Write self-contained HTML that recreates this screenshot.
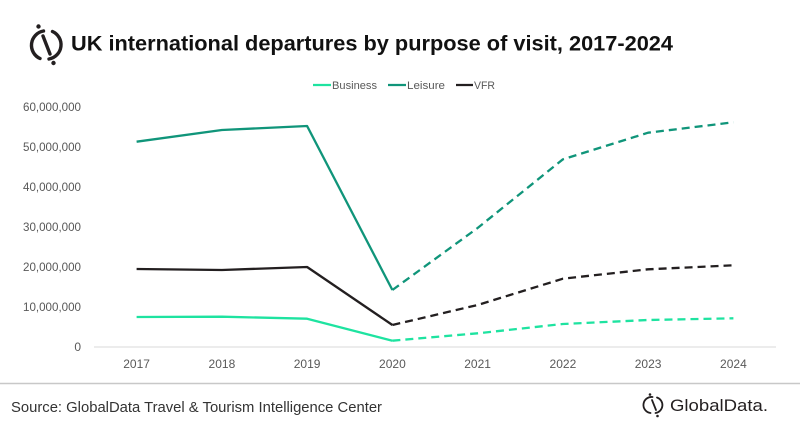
<!DOCTYPE html>
<html>
<head>
<meta charset="utf-8">
<style>
  html,body{margin:0;padding:0;background:#fff;}
  svg{display:block;}
  text{font-family:"Liberation Sans",Arial,sans-serif;}
</style>
</head>
<body>
<svg width="800" height="429" viewBox="0 0 800 429" xmlns="http://www.w3.org/2000/svg">
  <rect width="800" height="429" fill="#fff"/>

  <!-- Header logo icon -->
  <g fill="none" stroke="#231f20" stroke-width="3.4" stroke-linecap="round">
    <path d="M 52.5 31.5 A 14.5 14.5 0 0 1 49 59"/>
    <path d="M 40 58.5 A 14.5 14.5 0 0 1 43.5 31"/>
    <line x1="43" y1="36" x2="50" y2="54"/>
  </g>
  <circle cx="38.5" cy="26.5" r="2.2" fill="#231f20"/>
  <circle cx="53.5" cy="63" r="2.2" fill="#231f20"/>

  <!-- Title -->
  <text x="71" y="50.5" font-size="21.7" font-weight="bold" fill="#111" textLength="602" lengthAdjust="spacingAndGlyphs">UK international departures by purpose of visit, 2017-2024</text>

  <!-- Legend -->
  <g font-size="11" fill="#595959">
    <line x1="313" y1="85" x2="331" y2="85" stroke="#1ee3a0" stroke-width="2.2"/>
    <text x="332" y="89" textLength="45" lengthAdjust="spacingAndGlyphs">Business</text>
    <line x1="388" y1="85" x2="406" y2="85" stroke="#10957a" stroke-width="2.2"/>
    <text x="407" y="89" textLength="38" lengthAdjust="spacingAndGlyphs">Leisure</text>
    <line x1="456" y1="85" x2="473" y2="85" stroke="#231f20" stroke-width="2.2"/>
    <text x="474" y="89" textLength="21" lengthAdjust="spacingAndGlyphs">VFR</text>
  </g>

  <!-- Y axis labels -->
  <g font-size="12" fill="#595959" text-anchor="end">
    <text x="81" y="111" textLength="58" lengthAdjust="spacingAndGlyphs">60,000,000</text>
    <text x="81" y="151" textLength="58" lengthAdjust="spacingAndGlyphs">50,000,000</text>
    <text x="81" y="191" textLength="58" lengthAdjust="spacingAndGlyphs">40,000,000</text>
    <text x="81" y="231" textLength="58" lengthAdjust="spacingAndGlyphs">30,000,000</text>
    <text x="81" y="271" textLength="58" lengthAdjust="spacingAndGlyphs">20,000,000</text>
    <text x="81" y="311" textLength="58" lengthAdjust="spacingAndGlyphs">10,000,000</text>
    <text x="81" y="351">0</text>
  </g>

  <!-- Baseline -->
  <line x1="94" y1="347" x2="776" y2="347" stroke="#d9d9d9" stroke-width="1"/>

  <!-- X axis labels -->
  <g font-size="12" fill="#595959" text-anchor="middle">
    <text x="136.6" y="368">2017</text>
    <text x="221.9" y="368">2018</text>
    <text x="307.1" y="368">2019</text>
    <text x="392.4" y="368">2020</text>
    <text x="477.6" y="368">2021</text>
    <text x="562.9" y="368">2022</text>
    <text x="648.1" y="368">2023</text>
    <text x="733.4" y="368">2024</text>
  </g>

  <!-- Series -->
  <g fill="none" stroke-width="2.3" stroke-linejoin="round">
    <!-- Leisure -->
    <polyline stroke="#10957a" points="136.6,141.7 221.9,130 307.1,126 392.4,290"/>
    <polyline stroke="#10957a" stroke-dasharray="8,5" points="392.4,290 477.6,228 562.9,159.3 648.1,132.7 733.4,122.3"/>
    <!-- VFR -->
    <polyline stroke="#231f20" points="136.6,269 221.9,270 307.1,267 392.4,325"/>
    <polyline stroke="#231f20" stroke-dasharray="8,5" points="392.4,325 477.6,305 562.9,278.7 648.1,269.3 733.4,265.3"/>
    <!-- Business -->
    <polyline stroke="#1ee3a0" points="136.6,317 221.9,316.7 307.1,318.7 392.4,340.7"/>
    <polyline stroke="#1ee3a0" stroke-dasharray="8,5" points="392.4,340.7 477.6,333.3 562.9,324 648.1,320 733.4,318.3"/>
  </g>

  <!-- Bottom separator -->
  <line x1="0" y1="383.5" x2="800" y2="383.5" stroke="#c8c8c8" stroke-width="1.5"/>

  <!-- Source -->
  <text x="11" y="412" font-size="15" fill="#333" textLength="371" lengthAdjust="spacingAndGlyphs">Source: GlobalData Travel &amp; Tourism Intelligence Center</text>

  <!-- Footer logo -->
  <g fill="none" stroke="#231f20" stroke-width="1.8" stroke-linecap="round">
    <path d="M 657 397.5 A 8 8 0 0 1 655.5 413"/>
    <path d="M 650.5 413 A 8 8 0 0 1 652.5 397"/>
    <line x1="652" y1="400" x2="656" y2="410"/>
  </g>
  <circle cx="650" cy="394.5" r="1.3" fill="#231f20"/>
  <circle cx="657.5" cy="416" r="1.3" fill="#231f20"/>
  <text x="670" y="411" font-size="17" fill="#231f20" textLength="98" lengthAdjust="spacingAndGlyphs">GlobalData.</text>
</svg>
</body>
</html>
